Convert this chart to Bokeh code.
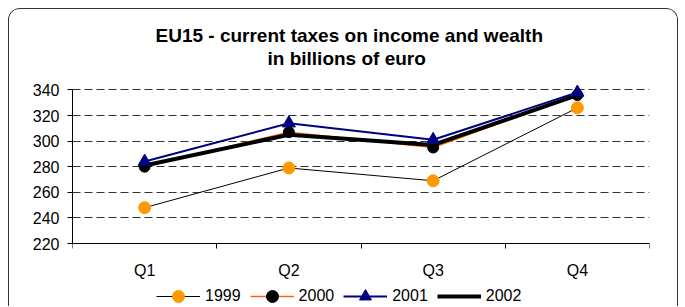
from bokeh.plotting import figure
from bokeh.models import Range1d, FixedTicker, Legend, LegendItem, Title
from bokeh.embed import file_html
from bokeh.resources import INLINE

quarters = ["Q1", "Q2", "Q3", "Q4"]
y1999 = [248, 279, 269, 326]
y2000 = [280, 307, 295, 336]
y2001 = [284, 314, 301, 338]
y2002 = [281, 305, 297, 336]
y_ticks = [220, 240, 260, 280, 300, 320, 340]
title_lines = ["EU15 - current taxes on income and wealth", "in billions of euro"]

FONT = "Liberation Sans"

xs = [i + 0.5 for i in range(len(quarters))]
bounds = list(range(len(quarters) + 1))

# the frame extends below the x axis so that the legend can sit inside it
p = figure(frame_width=577, frame_height=224, output_backend="svg", toolbar_location=None,
           x_range=Range1d(0, len(quarters)), y_range=Range1d(170, 345),
           min_border_left=63, min_border_right=28, min_border_top=74, min_border_bottom=0,
           styles={"margin": "8px 8px 0 8px", "border": "1px solid #333333",
                   "border-bottom": "none", "border-radius": "12px 12px 0 0",
                   "height": "298px", "overflow": "hidden"})
p.outline_line_color = None
p.background_fill_color = "white"

# titles (spacer closest to the frame, then second line, then first line)
spacer = Title(text=" ", text_font=FONT, text_font_size="10px", standoff=2)
t2 = Title(text=title_lines[1], align="left", offset=195, vertical_align="bottom",
           text_font=FONT, text_font_size="19px", text_font_style="bold",
           text_color="black", standoff=0)
t1 = Title(text=title_lines[0], align="left", offset=83, vertical_align="bottom",
           text_font=FONT, text_font_size="19px", text_font_style="bold",
           text_color="black", standoff=0)
p.add_layout(spacer, "above")
p.add_layout(t2, "above")
p.add_layout(t1, "above")

# axes
p.xaxis.fixed_location = y_ticks[0]
p.xaxis.ticker = FixedTicker(ticks=xs, minor_ticks=bounds)
p.xaxis.major_label_overrides = {x: q for x, q in zip(xs, quarters)}
p.xaxis.major_tick_out = 0
p.xaxis.major_tick_in = 0
p.xaxis.minor_tick_out = 5
p.xaxis.minor_tick_in = 0
p.xaxis.major_label_standoff = 13
p.yaxis.bounds = (y_ticks[0], y_ticks[-1])
p.yaxis.ticker = FixedTicker(ticks=y_ticks)
p.yaxis.major_tick_out = 5
p.yaxis.major_tick_in = 0
p.yaxis.minor_tick_line_color = None
p.yaxis.major_label_standoff = 8
for ax in (p.xaxis, p.yaxis):
    ax.axis_line_color = "black"
    ax.major_tick_line_color = "black"
    ax.major_label_text_font = FONT
    ax.major_label_text_font_size = "16px"
    ax.major_label_text_color = "black"
p.xaxis.minor_tick_line_color = "black"

p.xgrid.grid_line_color = None
p.ygrid.grid_line_color = "#333333"
p.ygrid.grid_line_dash = "8 4"
p.ygrid.grid_line_width = 1

# series
l99 = p.line(xs, y1999, line_color="black", line_width=1)
s99 = p.scatter(xs, y1999, marker="circle", size=12, fill_color="#FF9900", line_color="#FF9900")
l00 = p.line(xs, y2000, line_color="#FF6600", line_width=1.5)
s00 = p.scatter(xs, y2000, marker="circle", size=11, fill_color="black", line_color="black")
l02 = p.line(xs, y2002, line_color="black", line_width=4)
l01 = p.line(xs, y2001, line_color="#000080", line_width=2)
s01 = p.scatter(xs, y2001, marker="triangle", size=13, fill_color="#000080", line_color="#000080")

legend = Legend(items=[
    LegendItem(label="1999", renderers=[l99, s99]),
    LegendItem(label="2000", renderers=[l00, s00]),
    LegendItem(label="2001", renderers=[l01, s01]),
    LegendItem(label="2002", renderers=[l02]),
], orientation="horizontal", location=(84, -4), glyph_width=44, glyph_height=30,
    label_standoff=5, spacing=9, padding=0, margin=0,
    border_line_alpha=0, background_fill_alpha=0,
    label_text_font=FONT, label_text_font_size="16px", label_text_color="black",
    label_height=16)
p.add_layout(legend, "center")

open("out.html", "w").write(file_html(p, INLINE))
